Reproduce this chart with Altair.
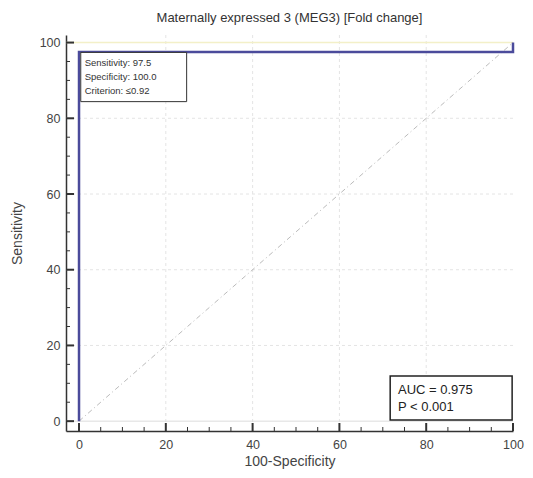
import altair as alt
import pandas as pd

# ROC curve points (100-Specificity, Sensitivity)
roc_x = [0, 0, 100, 100]
roc_y = [0, 97.5, 97.5, 100]
diag_x = [0, 100]
diag_y = [0, 100]
grid_vals = [20, 40, 60, 80]
major_ticks = [0, 20, 40, 60, 80, 100]
minor_ticks = [5, 10, 15, 25, 30, 35, 45, 50, 55, 65, 70, 75, 85, 90, 95]
info_lines = ["Sensitivity:  97.5", "Specificity:  100.0", "Criterion: \u22640.92"]
auc_lines = ["AUC = 0.975", "P < 0.001"]

W, H = 447, 396
xs = alt.Scale(domain=[-3, 100], nice=False, zero=False)
ys = alt.Scale(domain=[-2.6, 102], nice=False, zero=False)
FONT = "Liberation Sans"

roc = pd.DataFrame({"x": roc_x, "y": roc_y, "o": list(range(len(roc_x)))})
diag = pd.DataFrame({"x": diag_x, "y": diag_y})
grid = pd.DataFrame({"v": grid_vals})
majors = pd.DataFrame({"v": major_ticks})
minors = pd.DataFrame({"v": minor_ticks})

xaxis = alt.Axis(values=major_ticks, title="100-Specificity", grid=False, ticks=False,
                 domainColor="#333", domainWidth=1.5, labelFont=FONT, labelFontSize=12.5,
                 labelColor="#444", labelPadding=7, labelFlush=False, titleFont=FONT,
                 titleFontSize=14, titleFontWeight="normal", titleColor="#444", titlePadding=4)
yaxis = alt.Axis(values=major_ticks, title="Sensitivity", grid=False, ticks=False,
                 domainColor="#333", domainWidth=1.5, labelFont=FONT, labelFontSize=12.5,
                 labelColor="#444", labelPadding=6, labelFlush=False, titleFont=FONT,
                 titleFontSize=14, titleFontWeight="normal", titleColor="#444", titlePadding=15)

gx = alt.Chart(grid).mark_rule(color="#e4e4e4", strokeDash=[3, 3], strokeWidth=1).encode(
    x=alt.X("v:Q", scale=xs, axis=xaxis))
gy = alt.Chart(grid).mark_rule(color="#e4e4e4", strokeDash=[3, 3], strokeWidth=1).encode(
    y=alt.Y("v:Q", scale=ys, axis=yaxis))
g0 = alt.Chart(pd.DataFrame({"v": [0]})).mark_rule(color="#dddddd", strokeWidth=1).encode(
    y=alt.Y("v:Q", scale=ys))
g100 = alt.Chart(pd.DataFrame({"v": [100]})).mark_rule(color="#f3f0c8", strokeWidth=1.5).encode(
    y=alt.Y("v:Q", scale=ys))

diag_line = alt.Chart(diag).mark_line(color="#bbbbbb", strokeDash=[5, 3, 1, 3], strokeWidth=1).encode(
    x=alt.X("x:Q", scale=xs), y=alt.Y("y:Q", scale=ys))

roc_line = alt.Chart(roc).mark_line(color="#4b4b9b", strokeWidth=2.5, interpolate="linear").encode(
    x=alt.X("x:Q", scale=xs), y=alt.Y("y:Q", scale=ys), order="o:Q")

# inner ticks
xt_major = alt.Chart(majors).mark_rule(color="#333", strokeWidth=2).encode(
    x=alt.X("v:Q", scale=xs), y=alt.value(H), y2=alt.value(H - 8))
xt_minor = alt.Chart(minors).mark_rule(color="#333", strokeWidth=1).encode(
    x=alt.X("v:Q", scale=xs), y=alt.value(H), y2=alt.value(H - 4))
yt_major = alt.Chart(majors).mark_rule(color="#333", strokeWidth=2).encode(
    y=alt.Y("v:Q", scale=ys), x=alt.value(0), x2=alt.value(8))
yt_minor = alt.Chart(minors).mark_rule(color="#333", strokeWidth=1).encode(
    y=alt.Y("v:Q", scale=ys), x=alt.value(0), x2=alt.value(4))

# info box (top-left)
box1 = alt.Chart(pd.DataFrame({"x": [0.4], "x2": [24.8], "y": [97.4], "y2": [84.4]})).mark_rect(
    fill="white", stroke="#333", strokeWidth=1).encode(
    x=alt.X("x:Q", scale=xs), x2="x2:Q", y=alt.Y("y:Q", scale=ys), y2="y2:Q")
info_df = pd.DataFrame({"t": info_lines, "x": [1.3] * 3, "y": [94.6, 90.9, 87.2]})
info_txt = alt.Chart(info_df).mark_text(align="left", baseline="middle", font=FONT,
                                        fontSize=9.5, color="#333").encode(
    x=alt.X("x:Q", scale=xs), y=alt.Y("y:Q", scale=ys), text="t:N")

# AUC box (bottom-right)
box2 = alt.Chart(pd.DataFrame({"x": [71.7], "x2": [99.8], "y": [11.9], "y2": [0.3]})).mark_rect(
    fill="white", stroke="#222", strokeWidth=1.5).encode(
    x=alt.X("x:Q", scale=xs), x2="x2:Q", y=alt.Y("y:Q", scale=ys), y2="y2:Q")
auc_df = pd.DataFrame({"t": auc_lines, "x": [73.5] * 2, "y": [8.2, 3.7]})
auc_txt = alt.Chart(auc_df).mark_text(align="left", baseline="middle", font=FONT,
                                      fontSize=13, color="#222").encode(
    x=alt.X("x:Q", scale=xs), y=alt.Y("y:Q", scale=ys), text="t:N")

chart = alt.layer(
    gx, gy, g0, g100, diag_line, roc_line, xt_major, xt_minor, yt_major, yt_minor,
    box1, info_txt, box2, auc_txt
).properties(
    width=W, height=H,
    title=alt.TitleParams("Maternally expressed 3 (MEG3) [Fold change]", font=FONT,
                          fontSize=13, fontWeight="normal", color="#333", offset=10),
    autosize=alt.AutoSizeParams(type="none"),
    padding={"left": 58, "top": 27, "right": 12, "bottom": 39},
).configure_view(stroke=None)

chart.save("out.html", embed_options={"renderer": "svg", "actions": False})
